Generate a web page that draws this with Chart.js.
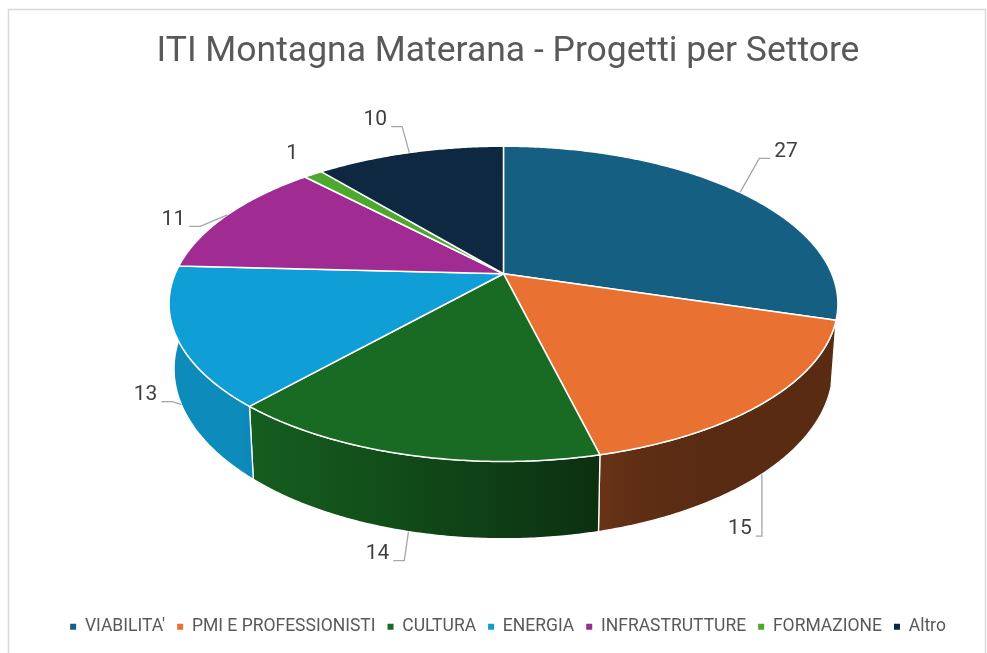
<!DOCTYPE html>
<html><head><meta charset="utf-8">
<script src="https://cdn.jsdelivr.net/npm/chart.js@4.4.1/dist/chart.umd.min.js"></script>
<style>html,body{margin:0;padding:0;background:#fff;}canvas{display:block;}</style>
</head><body>
<canvas id="c" width="987" height="653"></canvas>
<script>
// ---- data ----
const CATEGORIES = ["VIABILITA'", "PMI E PROFESSIONISTI", "CULTURA", "ENERGIA", "INFRASTRUTTURE", "FORMAZIONE", "Altro"];
const VALUES = [27, 15, 14, 13, 11, 1, 10];
const COLORS = ["#156082", "#E97132", "#196B24", "#0F9ED5", "#A02B93", "#4EA72E", "#0E2841"];
const TITLE = "ITI Montagna Materana - Progetti per Settore";

// ---- style (3D projection factors, relative to Chart.js arc radius) ----
const G = { dx: -0.0173, dy: -0.2721, ka: 1.2567, kBot: 0.985, kb: 0.5815, kh: 0.2394, p: 0.191 };
// data label offsets (text centre relative to rim anchor), per slice, in px; leader on/off
const LABEL_STYLE = [
  { dx: 46, dy: -41, leader: true },
  { dx: -22, dy: 55, leader: true },
  { dx: -31, dy: 22, leader: true },
  { dx: -36, dy: -10, leader: true },
  { dx: -54, dy: 4.5, leader: true },
  { dx: -21, dy: -21, leader: false },
  { dx: -34, dy: -33, leader: true }
];
const FONT = 'Roboto';

function hexRgb(h){ h=h.replace('#',''); return [parseInt(h.substr(0,2),16),parseInt(h.substr(2,2),16),parseInt(h.substr(4,2),16)]; }
function shade(hex, f){ const c=hexRgb(hex).map(v=>Math.round(Math.max(0,Math.min(255,v*f)))); return 'rgb('+c.join(',')+')'; }
function wallF(u){ return Math.max(0.38, Math.min(0.88, 0.57 - 0.41*u)); }

function geom(chart){
  const arc = chart.getDatasetMeta(0).data[0];
  const R = arc.outerRadius;
  return { cx: arc.x + G.dx*R, cy: arc.y + G.dy*R, a: G.ka*R, a2: G.ka*G.kBot*R, b: G.kb*R, H: G.kh*R, p: G.p };
}
function topPt(g, al){ const u=Math.cos(al), v=Math.sin(al), d=1-g.p*v; return [g.cx+g.a*u/d, g.cy+g.b*v/d]; }
function botPt(g, al){ const u=Math.cos(al), v=Math.sin(al), d=1-g.p*v; return [g.cx+g.a2*u/d, g.cy+(g.b*v+g.H)/d]; }
function samples(s, e){ const n=Math.max(2, Math.ceil((e-s)/(Math.PI/360))); const out=[]; for(let i=0;i<=n;i++) out.push(s+(e-s)*i/n); return out; }

const pie3d = {
  id: 'pie3d',
  beforeDraw(chart){
    const ctx = chart.ctx;
    ctx.save();
    ctx.strokeStyle = '#d9d9d9'; ctx.lineWidth = 1.5;
    ctx.strokeRect(8.5, 9.5, 977, 720);
    ctx.restore();
  },
  beforeDatasetsDraw(chart){
    const ctx = chart.ctx;
    const meta = chart.getDatasetMeta(0);
    const g = geom(chart);
    const colors = chart.data.datasets[0].backgroundColor;
    ctx.save();
    ctx.lineJoin = 'round';
    // side walls (front half only)
    meta.data.forEach((arc, i) => {
      const s = Math.max(arc.startAngle, 0), e = Math.min(arc.endAngle, Math.PI);
      if (e <= s) return;
      const ang = samples(s, e);
      ctx.beginPath();
      ang.forEach((al, k) => { const p = topPt(g, al); k ? ctx.lineTo(p[0], p[1]) : ctx.moveTo(p[0], p[1]); });
      for (let k = ang.length-1; k >= 0; k--) { const p = botPt(g, ang[k]); ctx.lineTo(p[0], p[1]); }
      ctx.closePath();
      const grad = ctx.createLinearGradient(g.cx - g.a, 0, g.cx + g.a, 0);
      for (let t = 0; t <= 10; t++) grad.addColorStop(t/10, shade(colors[i], wallF(-1 + 2*t/10)));
      ctx.fillStyle = grad; ctx.fill();
      ctx.strokeStyle = '#ffffff'; ctx.lineWidth = 1.3; ctx.stroke();
    });
    // top faces
    meta.data.forEach((arc, i) => {
      const ang = samples(arc.startAngle, arc.endAngle);
      ctx.beginPath();
      ctx.moveTo(g.cx, g.cy);
      ang.forEach(al => { const p = topPt(g, al); ctx.lineTo(p[0], p[1]); });
      ctx.closePath();
      ctx.fillStyle = colors[i]; ctx.fill();
      ctx.strokeStyle = '#ffffff'; ctx.lineWidth = 1.5; ctx.stroke();
    });
    ctx.restore();
    return false;
  },
  afterDraw(chart){
    const ctx = chart.ctx;
    const meta = chart.getDatasetMeta(0);
    const g = geom(chart);
    const vals = chart.data.datasets[0].data;
    ctx.save();
    ctx.font = '21px ' + FONT;
    ctx.textAlign = 'center'; ctx.textBaseline = 'middle';
    meta.data.forEach((arc, i) => {
      const mid = (arc.startAngle + arc.endAngle)/2;
      const anchor = Math.sin(mid) > 0 ? botPt(g, mid) : topPt(g, mid);
      const st = LABEL_STYLE[i];
      const tx = anchor[0] + st.dx, ty = anchor[1] + st.dy;
      const txt = String(vals[i]);
      const w = ctx.measureText(txt).width;
      if (st.leader) {
        const ex = st.dx < 0 ? tx + w/2 + 4 : tx - w/2 - 4;
        const ey = ty + 7;
        const L = Math.min(11, Math.abs(anchor[0] - ex));
        const bx = ex + (anchor[0] > ex ? L : -L);
        ctx.beginPath(); ctx.moveTo(anchor[0], anchor[1]); ctx.lineTo(bx, ey); ctx.lineTo(ex, ey);
        ctx.strokeStyle = '#a6a6a6'; ctx.lineWidth = 1.3; ctx.stroke();
      }
      ctx.fillStyle = '#404040';
      ctx.fillText(txt, tx, ty);
    });
    ctx.restore();
  }
};

new Chart(document.getElementById('c'), {
  type: 'pie',
  data: { labels: CATEGORIES, datasets: [{ data: VALUES, backgroundColor: COLORS, borderWidth: 0 }] },
  options: {
    responsive: false, animation: false, devicePixelRatio: 1,
    layout: { padding: { left: 29, right: 0, top: 0, bottom: 7.5 } },
    plugins: {
      title: { display: true, text: TITLE, color: '#595959', padding: { top: 31, bottom: 10 },
               font: { size: 35.5, family: FONT, weight: 'normal' } },
      legend: { position: 'bottom', labels: { boxWidth: 6, boxHeight: 6, padding: 12, color: '#595959',
               font: { size: 17.5, family: FONT } } },
      tooltip: { enabled: false }
    }
  },
  plugins: [pie3d]
});
</script>
</body></html>
